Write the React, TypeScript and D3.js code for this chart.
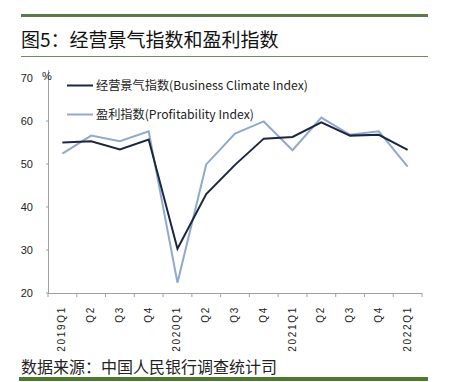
import React from "react";
import * as d3 from "d3";

const categories = ["2019Q1", "Q2", "Q3", "Q4", "2020Q1", "Q2", "Q3", "Q4", "2021Q1", "Q2", "Q3", "Q4", "2022Q1"];
const businessClimate = [55.0, 55.3, 53.4, 55.7, 30.3, 43.0, 49.8, 55.9, 56.3, 59.7, 56.6, 56.8, 53.3];
const profitability = [52.4, 56.6, 55.3, 57.6, 22.4, 49.9, 57.1, 59.9, 53.2, 60.8, 56.8, 57.6, 49.4];
const yTicks = [20, 30, 40, 50, 60, 70];
const seriesNames = ["经营景气指数(Business Climate Index)", "盈利指数(Profitability Index)"];

export default function App() {
  const W = 449, H = 382;
  const x0 = 48, x1 = 422, yTop = 78, yBot = 293;
  const x = d3.scaleBand<number>().domain(categories.map((_, i) => i)).range([x0, x1]);
  const y = d3.scaleLinear().domain([20, 70]).range([yBot, yTop]);
  const line = d3.line<number>().x((_, i) => (x(i) as number) + x.bandwidth() / 2).y(d => y(d));
  const font = "'Liberation Sans', Arial, sans-serif";
  const cjk = "'Noto Sans CJK SC', sans-serif";
  const dark = "#1b2640";
  const light = "#90a9cc";
  return (
    <svg width={W} height={H} style={{ position: "absolute", left: 0, top: 0, background: "#fff" }}>
      <rect x={21} y={14} width={407} height={3} fill="#5a7a48" />
      <text x={21} y={47} fontFamily={cjk} fontSize={19} fill="#111">图5：经营景气指数和盈利指数</text>
      <line x1={21} x2={428} y1={56.5} y2={56.5} stroke="#6d8a5c" strokeWidth={1} />

      {/* y axis */}
      <line x1={x0 + 0.5} x2={x0 + 0.5} y1={70} y2={yBot} stroke="#a0a0a0" strokeWidth={1} />
      {yTicks.map(t => (
        <g key={t}>
          <line x1={x0 - 2} x2={x0} y1={y(t)} y2={y(t)} stroke="#a0a0a0" />
          <text x={33} y={y(t) + 4} textAnchor="end" fontFamily={font} fontSize={11} fill="#222">{t}</text>
        </g>
      ))}
      <text x={42} y={80} fontFamily={font} fontSize={11} fill="#222">%</text>

      {/* x axis */}
      <line x1={x0} x2={x1} y1={yBot + 0.5} y2={yBot + 0.5} stroke="#a0a0a0" strokeWidth={1} />
      {d3.range(categories.length + 1).map(i => {
        const xx = x0 + i * x.step();
        return <line key={i} x1={xx} x2={xx} y1={yBot} y2={yBot + 4} stroke="#a0a0a0" />;
      })}
      {categories.map((c, i) => {
        const cx = (x(i) as number) + x.bandwidth() / 2 + 3;
        return (
          <text key={i} transform={`translate(${cx},${306}) rotate(-90)`} textAnchor="end"
            fontFamily={font} fontSize={10} letterSpacing={1.7} fill="#222">{c}</text>
        );
      })}

      {/* lines */}
      <path d={line(profitability) || ""} fill="none" stroke={light} strokeWidth={2} />
      <path d={line(businessClimate) || ""} fill="none" stroke={dark} strokeWidth={2} />

      {/* legend */}
      <line x1={67} x2={93} y1={85.5} y2={85.5} stroke={dark} strokeWidth={2} />
      <text x={96} y={90} fontFamily={cjk} fontSize={12.2} fill="#222">{seriesNames[0]}</text>
      <line x1={67} x2={93} y1={114.5} y2={114.5} stroke={light} strokeWidth={2} />
      <text x={96} y={119} fontFamily={cjk} fontSize={12.2} fill="#222">{seriesNames[1]}</text>

      <text x={21} y={373} fontFamily={cjk} fontSize={16} fill="#222">数据来源：中国人民银行调查统计司</text>
      <rect x={19} y={377} width={409} height={4} fill="#4d7a2c" />
    </svg>
  );
}
